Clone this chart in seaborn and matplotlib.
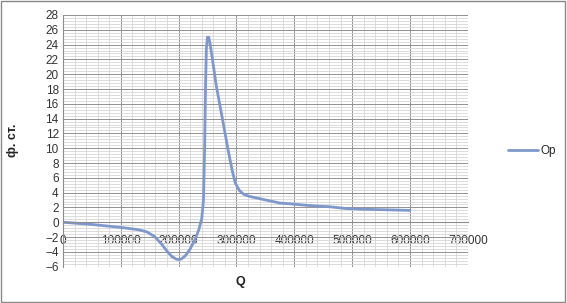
import matplotlib
matplotlib.use("Agg")
import matplotlib.pyplot as plt
import seaborn as sns
import pandas as pd
import numpy as np
from matplotlib.ticker import MultipleLocator
from matplotlib.patches import Rectangle

Q = [0, 50000, 100000, 130000, 145000, 158000, 170000, 180000, 188000, 195000,
     200000, 205000, 212000, 220000, 228000, 235000, 240000, 243000, 245000,
     246500, 248000, 250000, 252000, 254000, 258000,
     265000, 275000, 285000, 292000, 298000, 305000, 312000, 322000, 345000,
     375000, 405000, 435000, 460000, 490000, 520000, 550000, 600000]
Op = [0, -0.3, -0.7, -1.0, -1.3, -1.9, -2.9, -3.9, -4.6, -4.95,
      -5.05, -4.95, -4.5, -3.6, -2.4, -1.0, 0.5, 3.0, 10.0,
      18.0, 23.5, 25.0, 25.0, 24.3, 22.3,
      18.5, 14.3, 10.0, 7.2, 5.3, 4.3, 3.8, 3.5, 3.1,
      2.6, 2.4, 2.2, 2.1, 1.85, 1.75, 1.7, 1.6]
series_name = "Op"
x_label = "Q"
y_label = "ф. ст."

df = pd.DataFrame({"Q": Q, "val": Op, "series": series_name})

sns.set_style("white")
plt.rcParams['font.family'] = ['Liberation Sans', 'DejaVu Sans']

fig = plt.figure(figsize=(5.67, 3.03), dpi=100)
ax = fig.add_axes([0.111, 0.12, 0.714, 0.8305])

line_color = "#7f98cb"
sns.lineplot(data=df, x="Q", y="val", hue="series", palette=[line_color],
             linewidth=2.0, ax=ax, legend=True)
for ln in ax.get_lines():
    ln.set_solid_joinstyle("round")
    ln.set_solid_capstyle("round")

ax.set_xlim(0, 700000)
ax.set_ylim(-6, 28)
ax.xaxis.set_major_locator(MultipleLocator(100000))
ax.xaxis.set_minor_locator(MultipleLocator(20000))
ax.yaxis.set_major_locator(MultipleLocator(2))
ax.yaxis.set_minor_locator(MultipleLocator(0.4))
ax.grid(which="major", color="#909090", linewidth=0.7)
ax.grid(which="minor", color="#d6d6d6", linewidth=0.6)
ax.set_axisbelow(True)

for s in ["top", "right"]:
    ax.spines[s].set_visible(False)
ax.spines["left"].set_color("#8c8c8c")
ax.spines["bottom"].set_color("#8c8c8c")
ax.spines["bottom"].set_position(("data", 0))
ax.tick_params(axis="both", which="both", length=0, labelsize=8.5, colors="#333333")
ax.tick_params(axis="x", pad=9)
ax.tick_params(axis="y", pad=3)
ax.set_xticks(np.arange(0, 700001, 100000))
ax.set_xticklabels([str(v) for v in range(0, 700001, 100000)])

ax.set_xlabel("")
ax.set_ylabel("")
fig.text(240 / 567, 1 - 282 / 303, x_label, fontsize=9, fontweight="bold",
         ha="center", va="center", color="#222222")
fig.text(13 / 567, 1 - 140 / 303, y_label, fontsize=9, fontweight="bold",
         ha="center", va="center", rotation=90, color="#222222")

leg = ax.legend(loc="center left", bbox_to_anchor=(503 / 567, 1 - 151 / 303),
                bbox_transform=fig.transFigure, frameon=False, fontsize=8.5,
                handlelength=2.6, handletextpad=0.2, borderaxespad=0)

fig.patches.append(Rectangle((0.002, 0.003), 0.995, 0.993, transform=fig.transFigure,
                             fill=False, edgecolor="#888888", linewidth=1.0))

fig.savefig("out.png", dpi=100)
